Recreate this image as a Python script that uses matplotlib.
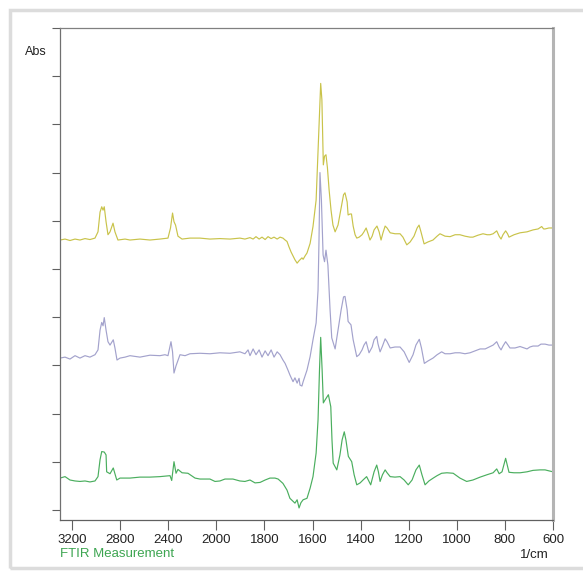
import numpy as np
import matplotlib
matplotlib.use("Agg")
import matplotlib.pyplot as plt
from matplotlib.patches import Rectangle

plt.rcParams['font.family'] = ['Liberation Sans', 'DejaVu Sans']

# wavenumbers (1/cm) and absorbance
wn_top = [3300, 3258, 3217, 3175, 3134, 3092, 3051, 3009, 2984, 2967, 2953, 2942, 2932, 2917, 2901,
          2884, 2859, 2843, 2818, 2759, 2718, 2635, 2552, 2469, 2402, 2381, 2364, 2352, 2339, 2319,
          2285, 2219, 2136, 2053, 1985, 1943, 1902, 1881, 1860, 1847, 1835, 1822, 1810, 1797, 1785,
          1772, 1760, 1747, 1735, 1723, 1714, 1706, 1698, 1689, 1681, 1673, 1664, 1656, 1652, 1644,
          1639, 1631, 1623, 1610, 1598, 1585, 1577, 1571, 1566, 1561, 1558, 1555, 1550, 1544, 1538,
          1531, 1523, 1515, 1506, 1494, 1481, 1471, 1465, 1456, 1452, 1444, 1438, 1431, 1423, 1416,
          1406, 1394, 1386, 1377, 1369, 1361, 1352, 1344, 1332, 1323, 1315, 1307, 1298, 1290, 1277,
          1257, 1236, 1224, 1208, 1194, 1178, 1165, 1157, 1149, 1136, 1120, 1099, 1082, 1070, 1049,
          1028, 1007, 987, 966, 945, 933, 912, 891, 874, 862, 849, 834, 824, 816, 808,
          797, 789, 783, 762, 737, 708, 683, 662, 647, 639, 633, 617, 600]
abs_top = [5.60, 5.62, 5.59, 5.62, 5.60, 5.63, 5.61, 5.64, 5.77, 6.18, 6.29, 6.22, 6.29, 5.98, 5.71,
           5.77, 5.95, 5.77, 5.60, 5.62, 5.60, 5.62, 5.60, 5.62, 5.64, 5.85, 6.16, 5.98, 5.91, 5.68,
           5.62, 5.64, 5.64, 5.62, 5.63, 5.62, 5.64, 5.62, 5.65, 5.62, 5.67, 5.62, 5.66, 5.61, 5.67,
           5.63, 5.66, 5.62, 5.66, 5.64, 5.60, 5.57, 5.46, 5.35, 5.27, 5.19, 5.12, 5.17, 5.19, 5.23,
           5.20, 5.27, 5.33, 5.53, 5.88, 6.43, 7.47, 8.30, 8.85, 8.51, 7.78, 7.16, 7.34, 7.37, 7.10,
           6.64, 6.22, 5.91, 5.77, 5.91, 6.27, 6.54, 6.58, 6.39, 6.12, 6.14, 6.14, 5.89, 5.71, 5.64,
           5.66, 5.71, 5.77, 5.85, 5.73, 5.60, 5.68, 5.81, 5.89, 5.77, 5.60, 5.75, 5.89, 5.85, 5.75,
           5.73, 5.73, 5.66, 5.50, 5.56, 5.68, 5.85, 5.91, 5.77, 5.52, 5.56, 5.60, 5.68, 5.73, 5.68,
           5.67, 5.71, 5.71, 5.68, 5.66, 5.66, 5.70, 5.73, 5.71, 5.71, 5.73, 5.79, 5.68, 5.62, 5.71,
           5.79, 5.73, 5.66, 5.71, 5.75, 5.77, 5.81, 5.83, 5.88, 5.83, 5.83, 5.85, 5.85]

wn_mid = [3300, 3258, 3217, 3175, 3134, 3092, 3051, 3009, 2984, 2967, 2953, 2942, 2932, 2917, 2901,
          2884, 2857, 2843, 2826, 2801, 2759, 2718, 2635, 2552, 2469, 2427, 2402, 2377, 2364, 2352,
          2335, 2302, 2260, 2219, 2136, 2053, 1985, 1943, 1902, 1881, 1868, 1860, 1847, 1835, 1822,
          1810, 1797, 1785, 1772, 1760, 1747, 1735, 1723, 1714, 1702, 1694, 1681, 1673, 1664, 1656,
          1652, 1644, 1639, 1631, 1623, 1610, 1598, 1585, 1577, 1573, 1569, 1563, 1556, 1550, 1544,
          1536, 1527, 1520, 1506, 1494, 1481, 1471, 1465, 1456, 1452, 1440, 1431, 1416, 1406, 1394,
          1386, 1377, 1365, 1352, 1344, 1333, 1328, 1319, 1309, 1298, 1290, 1277, 1257, 1236, 1219,
          1198, 1182, 1170, 1156, 1147, 1135, 1120, 1099, 1082, 1063, 1049, 1028, 1007, 987, 966,
          945, 924, 903, 882, 862, 849, 834, 824, 816, 808, 797, 787, 779, 758, 737,
          720, 708, 696, 683, 662, 650, 633, 617, 600]
abs_mid = [3.15, 3.17, 3.13, 3.20, 3.15, 3.20, 3.17, 3.22, 3.32, 3.73, 3.89, 3.82, 3.99, 3.73, 3.49,
           3.42, 3.53, 3.36, 3.11, 3.15, 3.17, 3.20, 3.17, 3.21, 3.20, 3.22, 3.20, 3.49, 3.28, 2.84,
           2.99, 3.22, 3.20, 3.24, 3.25, 3.24, 3.26, 3.25, 3.28, 3.24, 3.32, 3.20, 3.34, 3.22, 3.32,
           3.17, 3.30, 3.20, 3.32, 3.17, 3.28, 3.22, 3.11, 3.04, 2.90, 2.80, 2.66, 2.74, 2.63, 2.73,
           2.59, 2.57, 2.66, 2.78, 2.90, 3.18, 3.53, 3.88, 4.56, 5.60, 7.00, 6.43, 5.29, 5.15, 5.39,
           5.08, 4.15, 3.57, 3.34, 3.73, 4.15, 4.42, 4.43, 4.15, 3.91, 3.84, 3.53, 3.18, 3.22, 3.32,
           3.42, 3.49, 3.26, 3.38, 3.53, 3.60, 3.45, 3.28, 3.40, 3.55, 3.49, 3.36, 3.38, 3.38, 3.28,
           3.06, 3.22, 3.42, 3.54, 3.36, 3.04, 3.09, 3.15, 3.22, 3.28, 3.24, 3.24, 3.26, 3.26, 3.24,
           3.26, 3.30, 3.34, 3.34, 3.39, 3.42, 3.49, 3.38, 3.32, 3.40, 3.49, 3.42, 3.36, 3.36, 3.39,
           3.36, 3.34, 3.38, 3.40, 3.40, 3.44, 3.44, 3.42, 3.42]

wn_bot = [3300, 3258, 3217, 3175, 3134, 3092, 3051, 3009, 2984, 2967, 2953, 2932, 2917, 2912, 2884,
          2857, 2828, 2801, 2718, 2635, 2552, 2469, 2385, 2371, 2352, 2335, 2319, 2285, 2236, 2177,
          2136, 2053, 2011, 1985, 1964, 1931, 1902, 1881, 1860, 1839, 1818, 1797, 1777, 1756, 1743,
          1723, 1706, 1694, 1673, 1664, 1656, 1648, 1639, 1623, 1610, 1598, 1585, 1577, 1571, 1566,
          1560, 1555, 1548, 1534, 1524, 1519, 1514, 1499, 1486, 1477, 1468, 1461, 1451, 1437, 1427,
          1416, 1402, 1390, 1375, 1358, 1344, 1333, 1326, 1319, 1309, 1298, 1290, 1277, 1257, 1236,
          1219, 1202, 1186, 1170, 1156, 1145, 1132, 1116, 1098, 1082, 1063, 1041, 1015, 987, 959,
          933, 903, 874, 849, 834, 824, 812, 797, 783, 762, 737, 708, 683, 654, 633,
          617, 600]
abs_bot = [0.66, 0.69, 0.62, 0.60, 0.59, 0.60, 0.58, 0.60, 0.69, 1.04, 1.21, 1.20, 1.14, 0.79, 0.75,
           0.87, 0.62, 0.66, 0.66, 0.68, 0.68, 0.69, 0.71, 0.61, 1.00, 0.76, 0.84, 0.77, 0.76, 0.66,
           0.64, 0.64, 0.59, 0.60, 0.64, 0.64, 0.60, 0.59, 0.62, 0.56, 0.57, 0.62, 0.66, 0.66, 0.64,
           0.55, 0.41, 0.24, 0.14, 0.21, 0.04, 0.15, 0.21, 0.24, 0.45, 0.69, 1.18, 1.87, 2.90, 3.58,
           2.90, 2.22, 2.28, 2.39, 2.14, 1.45, 0.97, 0.83, 1.14, 1.45, 1.62, 1.45, 1.11, 1.00, 0.73,
           0.52, 0.56, 0.62, 0.69, 0.52, 0.79, 0.93, 0.79, 0.59, 0.73, 0.83, 0.77, 0.69, 0.68, 0.69,
           0.62, 0.52, 0.62, 0.83, 0.93, 0.73, 0.52, 0.60, 0.66, 0.71, 0.76, 0.77, 0.76, 0.66, 0.59,
           0.62, 0.68, 0.73, 0.77, 0.85, 0.75, 0.79, 1.07, 0.78, 0.77, 0.77, 0.79, 0.82, 0.83, 0.83,
           0.81, 0.79]

xtick_vals = [3200, 2800, 2400, 2000, 1800, 1600, 1400, 1200, 1000, 800, 600]


# the instrument halves the scale above 2000 1/cm
def fwd(x):
    x = np.asarray(x, dtype=float)
    return np.where(x >= 2000, (x - 2000) / 400.0, (x - 2000) / 200.0)


def inv(v):
    v = np.asarray(v, dtype=float)
    return np.where(v >= 0, 2000 + 400.0 * v, 2000 + 200.0 * v)


fig = plt.figure(figsize=(5.83, 5.75), dpi=100)
# light frame round the picture, open to the right edge
fig.add_artist(Rectangle((10 / 583, 7 / 575), 600 / 583, 558 / 575, transform=fig.transFigure,
                         fill=False, edgecolor='#dcdcdc', linewidth=2.5))

ax = fig.add_axes([60 / 583, 55 / 575, 493 / 583, 492 / 575])
ax.set_xscale('function', functions=(fwd, inv))

ax.plot(wn_top, abs_top, color='#c9c34a', lw=0.85)
ax.plot(wn_mid, abs_mid, color='#a3a2cc', lw=0.85)
ax.plot(wn_bot, abs_bot, color='#4aae5e', lw=0.85)

ax.set_xlim(3300, 600)
ax.set_ylim(-0.21, 10)
ax.set_xticks(xtick_vals)
ax.set_xticklabels([str(v) for v in xtick_vals])
ax.set_yticks(range(0, 11))
ax.set_yticklabels([])
ax.tick_params(axis='x', direction='out', length=7, width=0.8, color='#606060',
               labelsize=9.5, pad=3, labelcolor='#222222')
ax.tick_params(axis='y', direction='out', length=6, width=0.8, color='#606060')

ax.spines['left'].set_color('#707070')
ax.spines['left'].set_linewidth(0.9)
ax.spines['bottom'].set_color('#606060')
ax.spines['bottom'].set_linewidth(0.9)
ax.spines['top'].set_color('#808080')
ax.spines['top'].set_linewidth(0.9)
ax.spines['right'].set_color('#b4b4b4')
ax.spines['right'].set_linewidth(2.2)

fig.text(25 / 583, 1 - 52 / 575, 'Abs', fontsize=9, va='center', ha='left', color='#222222')
fig.text(60 / 583, 1 - 554 / 575, 'FTIR Measurement', fontsize=9.5, va='center', ha='left',
         color='#3da551')
fig.text(549 / 583, 1 - 555 / 575, '1/cm', fontsize=9.5, va='center', ha='right', color='#222222')

fig.savefig('out.png', dpi=100)
